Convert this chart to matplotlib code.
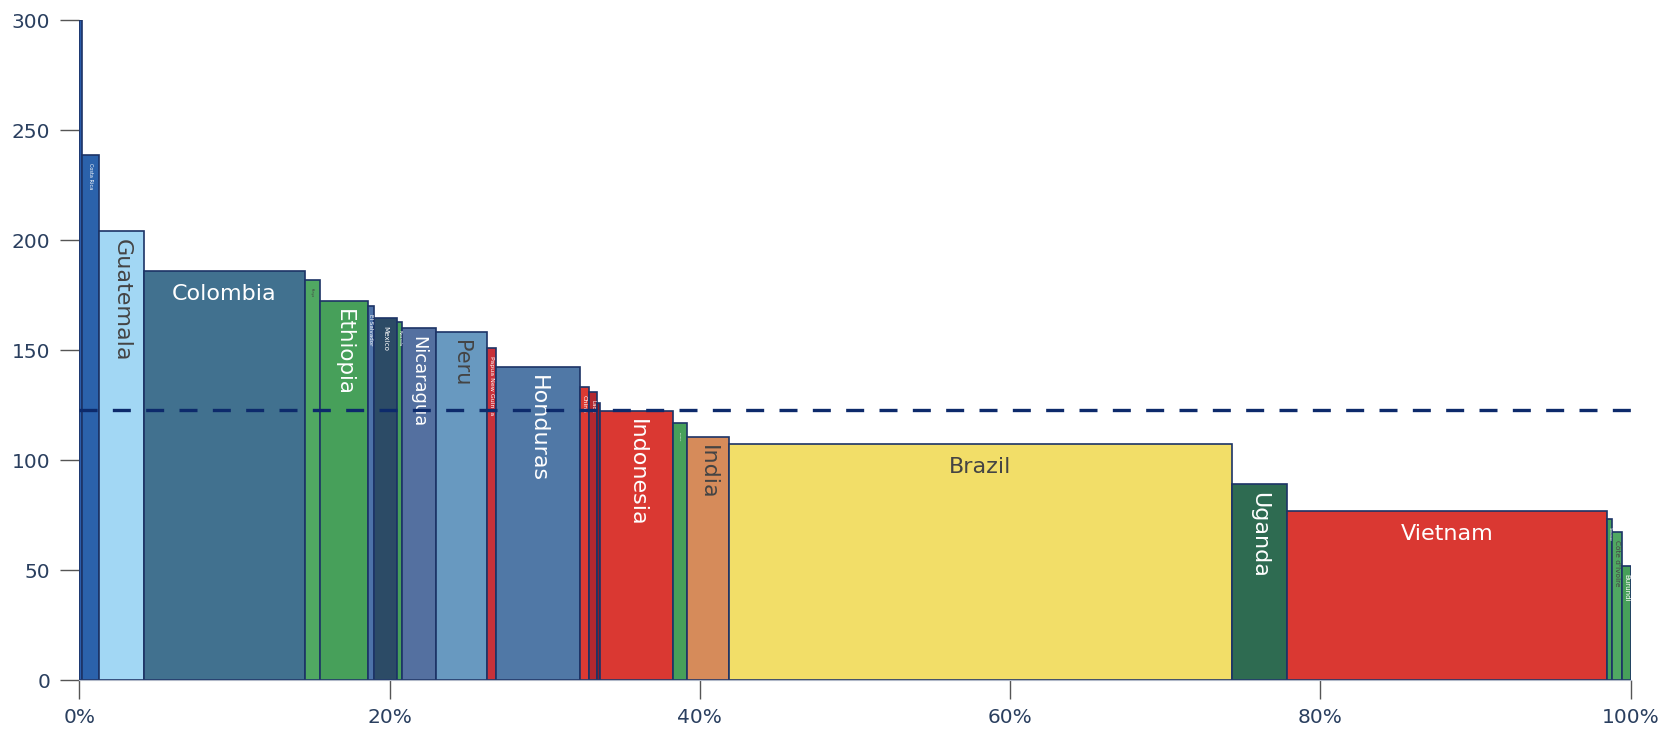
import numpy as np
import matplotlib.pyplot as plt
from matplotlib import colors as mcolors
from matplotlib.ticker import FuncFormatter

countries = ["Jamaica", "Costa Rica", "Guatemala", "Colombia", "Kenya", "Ethiopia",
             "El Salvador", "Mexico", "Rwanda", "Nicaragua", "Peru", "Papua New Guinea",
             "Honduras", "China", "Laos", "Thailand", "Indonesia", "Tanzania", "India",
             "Brazil", "Uganda", "Vietnam", "Cameroon", "Côte d'Ivoire", "Burundi"]
# share of total volume (%), one per country
share = [0.16, 1.10, 2.90, 10.36, 0.98, 3.10, 0.39, 1.50, 0.29, 2.18, 3.29, 0.64,
         5.38, 0.58, 0.49, 0.22, 4.70, 0.88, 2.74, 32.39, 3.60, 20.62, 0.32, 0.65, 0.54]
price = [300, 238.8, 204.1, 186.0, 181.9, 172.4, 170.3, 164.9, 163.0, 160.0, 158.5, 151.0,
         142.5, 133.5, 131.2, 126.0, 122.3, 117.1, 110.8, 107.6, 89.1, 77.0, 73.4, 67.6, 52.1]
avg_price = 122.7

# styling
bar_colors = ["#2a5caa", "#2b62ab", "#a2d7f4", "#41718f", "#50a862", "#47a05a",
              "#4d72a8", "#2c4b66", "#47a05a", "#5470a0", "#6899c0", "#c8313a",
              "#5078a6", "#dc3a33", "#b3282f", "#8b1e2a", "#da3832", "#47a05a",
              "#d68b5a", "#f2de68", "#2e6b51", "#da3832", "#47a05a", "#50a862", "#47a05a"]
label_pt = [0, 3.6, 16, 16, 2.2, 15.4, 4.1, 5.1, 2.9, 12.9, 15, 4.5,
            16, 4.5, 4, 0, 16, 1.5, 16, 16, 16, 16, 2, 5.3, 5]

fig = plt.figure(figsize=(16.8, 7.33), dpi=100)
ax = fig.add_axes([0.0472, 0.0718, 0.9235, 0.9004])

lefts = np.concatenate([[0], np.cumsum(share)[:-1]])
ax.bar(lefts, price, width=share, align="edge", color=bar_colors,
       edgecolor="#1c3366", linewidth=1.2, zorder=2)

ax.axhline(avg_price, color="#0d2a6b", linewidth=2.4, dashes=(5.4, 4.6), zorder=4)

ax.set_xlim(0, 100)
ax.set_ylim(0, 300)
ax.set_yticks(np.arange(0, 301, 50))
ax.set_xticks(np.arange(0, 101, 20))
ax.xaxis.set_major_formatter(FuncFormatter(lambda v, p: f"{v:.0f}%"))
ax.tick_params(axis="both", colors="#555555", labelcolor="#2a3f5f", labelsize=14.5,
               length=14, width=1)
ax.tick_params(axis="y", pad=7)
ax.tick_params(axis="x", pad=6)
for s in ["top", "right", "left"]:
    ax.spines[s].set_visible(False)
ax.spines["bottom"].set_color("#b0b8c8")

# labels inside the bars: horizontal when they fit, otherwise rotated
fig.canvas.draw()
r = fig.canvas.get_renderer()
for left, w, h, name, c, fs in zip(lefts, share, price, countries, bar_colors, label_pt):
    if fs <= 0:
        continue
    x0, y0 = ax.transData.transform((left, 0))
    x1, y1 = ax.transData.transform((left + w, h))
    t = ax.text(0, 0, name, fontsize=fs)
    tw = t.get_window_extent(r).width
    t.remove()
    rgb = mcolors.to_rgb(c)
    bright = (rgb[0] * 299 + rgb[1] * 587 + rgb[2] * 114) / 1000 * 255
    tc = "#444444" if bright >= 128 else "white"
    if tw + 12 < x1 - x0:
        ax.annotate(name, xy=(left + w / 2, h), xytext=(0, -13), textcoords="offset pixels",
                    ha="center", va="top", fontsize=fs, color=tc, zorder=3)
    else:
        ax.annotate(name, xy=(left + w / 2, h), xytext=(0, -8), textcoords="offset pixels",
                    ha="center", va="top", rotation=270, fontsize=fs, color=tc, zorder=3)

fig.savefig("out.png", dpi=100)
